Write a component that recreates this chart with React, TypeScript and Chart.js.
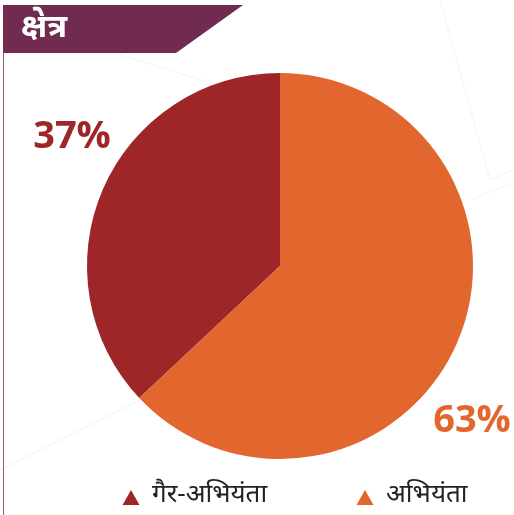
import React, { useEffect, useRef } from "react";
import { Chart, registerables } from "chart.js";

Chart.register(...registerables);

const title = "क्षेत्र";
const categories = ["गैर-अभियंता", "अभियंता"];
const values = [37, 63];
const colors = ["#9E2629", "#E2672F"];
const percentLabels = ["37%", "63%"];

const DEV_FONT = "'Noto Sans', 'Noto Sans Devanagari', 'Lohit Devanagari', sans-serif";
const NUM_FONT = "'Open Sans', 'Noto Sans', sans-serif";

const decorPlugin = {
  id: "decor",
  beforeDraw(chart: any) {
    const ctx = chart.ctx;
    ctx.save();
    ctx.fillStyle = "#ffffff";
    ctx.fillRect(0, 0, chart.width, chart.height);
    // faint background lines
    ctx.strokeStyle = "rgba(200,200,205,0.22)";
    ctx.lineWidth = 1;
    const lines = [
      [120, 55, 300, 110],
      [440, 0, 490, 180],
      [490, 180, 514, 170],
      [470, 200, 514, 182],
      [0, 470, 150, 395],
    ];
    for (const l of lines) {
      ctx.beginPath();
      ctx.moveTo(l[0], l[1]);
      ctx.lineTo(l[2], l[3]);
      ctx.stroke();
    }
    // left border line
    ctx.strokeStyle = "#8E5A78";
    ctx.lineWidth = 1;
    ctx.beginPath();
    ctx.moveTo(3.5, 53);
    ctx.lineTo(3.5, 515);
    ctx.stroke();
    // header banner
    ctx.fillStyle = "#722B50";
    ctx.beginPath();
    ctx.moveTo(3, 5);
    ctx.lineTo(243, 5);
    ctx.lineTo(176, 53);
    ctx.lineTo(3, 53);
    ctx.closePath();
    ctx.fill();
    ctx.fillStyle = "#ffffff";
    ctx.font = "bold 33px " + DEV_FONT;
    ctx.textBaseline = "middle";
    ctx.textAlign = "left";
    ctx.fillText(title, 21, 28);
    ctx.restore();
  },
  afterDraw(chart: any) {
    const ctx = chart.ctx;
    ctx.save();
    // percentage labels
    const labelPos = [
      [72, 137],
      [472, 421],
    ];
    ctx.font = "bold 38px " + NUM_FONT;
    ctx.textAlign = "center";
    ctx.textBaseline = "middle";
    percentLabels.forEach((t, i) => {
      ctx.fillStyle = colors[i];
      ctx.fillText(t, labelPos[i][0], labelPos[i][1]);
    });
    // legend
    const legendX = [131, 365];
    const ly = 498;
    categories.forEach((c, i) => {
      const x = legendX[i];
      ctx.fillStyle = colors[i];
      ctx.beginPath();
      ctx.moveTo(x, ly - 8);
      ctx.lineTo(x + 8.5, ly + 7);
      ctx.lineTo(x - 8.5, ly + 7);
      ctx.closePath();
      ctx.fill();
      ctx.fillStyle = "#222222";
      ctx.font = "26px " + DEV_FONT;
      ctx.textAlign = "left";
      ctx.textBaseline = "middle";
      ctx.fillText(c, x + 21, ly - 3);
    });
    ctx.restore();
  },
};

export default function App() {
  const ref = useRef<HTMLCanvasElement | null>(null);
  useEffect(() => {
    document.body.style.margin = "0";
    const total = values.reduce((a, b) => a + b, 0);
    const chart = new Chart(ref.current as HTMLCanvasElement, {
      type: "pie",
      data: {
        labels: categories,
        datasets: [
          {
            data: values,
            backgroundColor: colors,
            borderWidth: 0,
          },
        ],
      },
      options: {
        animation: false,
        responsive: false,
        rotation: -(values[0] / total) * 360,
        layout: { padding: { left: 87, right: 41, top: 73, bottom: 56 } },
        plugins: {
          legend: { display: false },
          tooltip: { enabled: false },
        },
      },
      plugins: [decorPlugin],
    });
    return () => chart.destroy();
  }, []);
  return (
    <div style={{ position: "absolute", left: 0, top: 0, width: 514, height: 515 }}>
      <canvas ref={ref} width={514} height={515} />
    </div>
  );
}
